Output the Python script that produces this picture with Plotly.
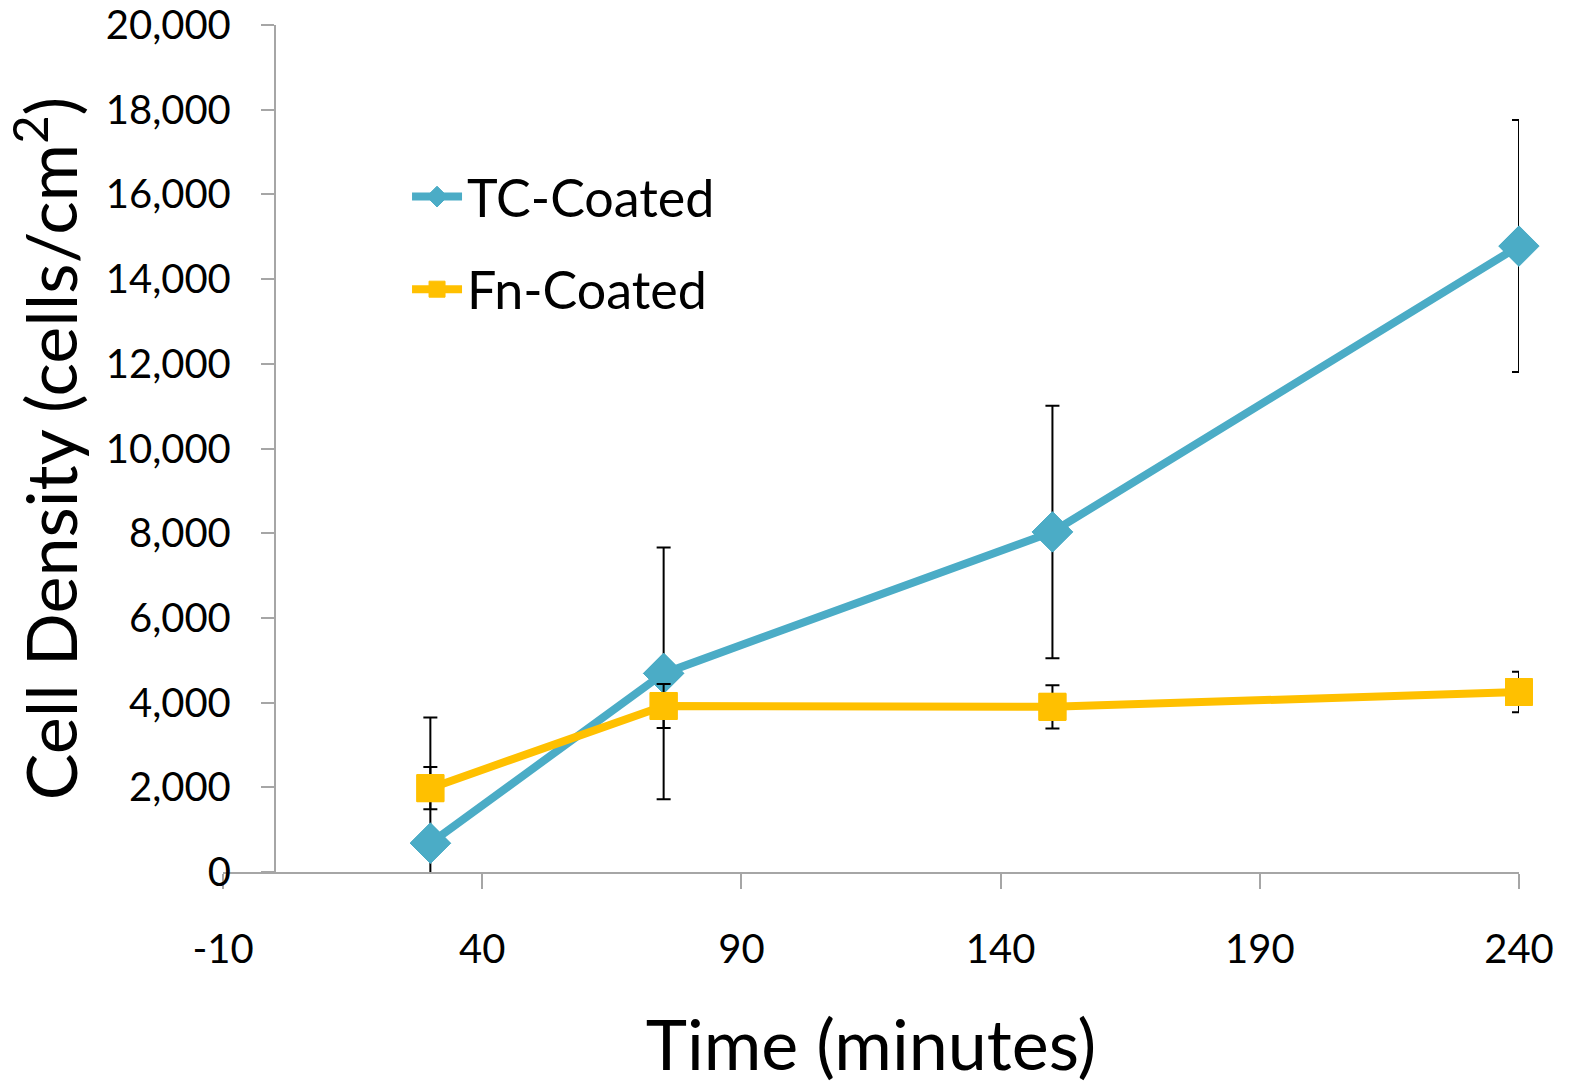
import plotly.graph_objects as go

# ---- data ----
time_min = [30, 75, 150, 240]
tc_coated = [680, 4690, 8030, 14780]
tc_err = [2970, 2970, 2980, 2975]
fn_coated = [1980, 3920, 3900, 4250]
fn_err = [500, 520, 510, 480]
x_ticks = [-10, 40, 90, 140, 190, 240]
y_ticks = list(range(0, 20001, 2000))

TC_COLOR = "#4BACC6"
FN_COLOR = "#FFC000"
FONT = "Lato"

fig = go.Figure()

series = [
    ("TC-Coated", tc_coated, tc_err, TC_COLOR, "diamond", 31),
    ("Fn-Coated", fn_coated, fn_err, FN_COLOR, "square", 27),
]
for name, vals, err, color, sym, msize in series:
    fig.add_trace(go.Scatter(
        x=time_min, y=vals, name=name, mode="lines+markers",
        legendgroup=name,
        line=dict(color=color, width=8),
        marker=dict(symbol=sym, size=msize, color=color,
                    line=dict(color=color, width=1)),
        error_y=dict(type="data", array=err, visible=True,
                     color="black", thickness=2, width=7),
        cliponaxis=True,
    ))
    fig.add_trace(go.Scatter(
        x=time_min, y=vals, name=name, mode="markers", showlegend=False,
        legendgroup=name,
        marker=dict(symbol=sym, size=msize, color=color,
                    line=dict(color=color, width=1)),
        cliponaxis=False, hoverinfo="skip",
    ))

fig.update_layout(
    width=1574, height=1086,
    margin=dict(l=223, r=55, t=25, b=214),
    paper_bgcolor="white", plot_bgcolor="white",
    font=dict(family=FONT, color="black", size=40),
    showlegend=True,
    legend=dict(
        x=0.142, y=0.845, xanchor="left", yanchor="top",
        font=dict(family=FONT, size=52, color="black"),
        bgcolor="rgba(0,0,0,0)", tracegroupgap=22,
        itemwidth=50,
    ),
    xaxis=dict(
        range=[-10, 240], tickvals=x_ticks, ticktext=[str(v) for v in x_ticks],
        showgrid=False, zeroline=False, automargin=False,
        showline=True, linecolor="#A6A6A6", linewidth=2,
        ticks="outside", ticklen=15, tickcolor="#A6A6A6", tickwidth=1.5,
        ticklabelstandoff=26, ticklabeloverflow="allow",
        tickfont=dict(family=FONT, size=40),
        title=dict(text="Time (minutes)", font=dict(family=FONT, size=70), standoff=50),
    ),
    yaxis=dict(
        range=[0, 20000], tickvals=y_ticks, tickformat=",d",
        anchor="free", position=0.04, automargin=False,
        showgrid=False, zeroline=False,
        showline=True, linecolor="#A6A6A6", linewidth=2,
        ticks="outside", ticklen=13, tickcolor="#A6A6A6", tickwidth=1.5,
        ticklabelstandoff=22, ticklabeloverflow="allow",
        tickfont=dict(family=FONT, size=40),
        title=dict(text="Cell Density (cells/cm<sup>2</sup>)", font=dict(family=FONT, size=70), standoff=6),
    ),
)

# remove the default 8px page margin so the figure sits at the window corner
fig.write_html("out.html", config={"displayModeBar": False},
               post_script="document.body.style.margin='0px';")
